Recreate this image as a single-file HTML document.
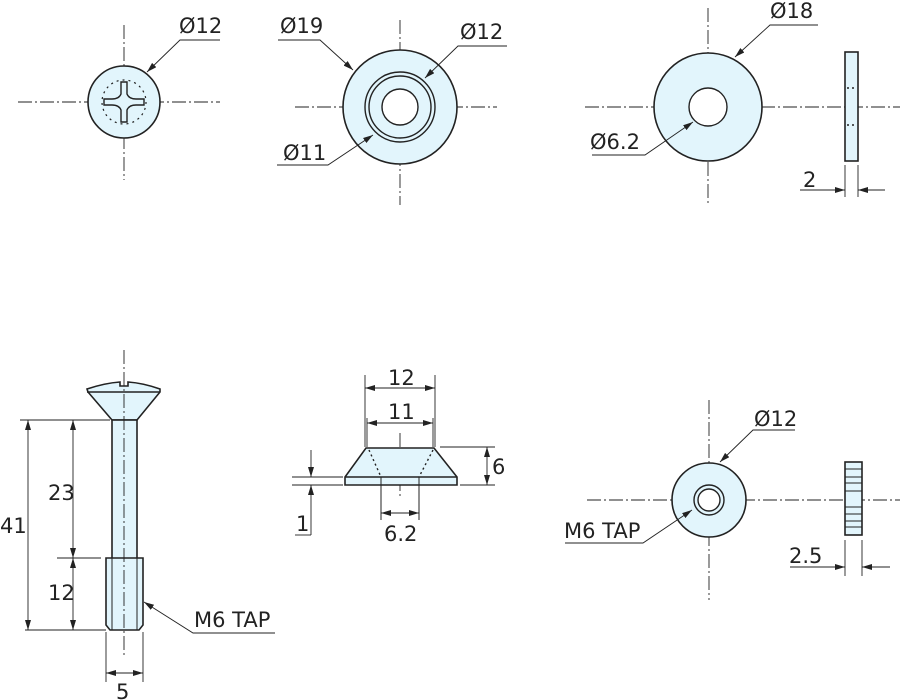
<!DOCTYPE html>
<html><head><meta charset="utf-8"><style>
html,body{margin:0;padding:0;background:#fff}
svg{display:block}
text{font-family:"DejaVu Sans","Liberation Sans",sans-serif;font-size:21px;fill:#222}
</style></head><body>
<svg width="900" height="700" viewBox="0 0 900 700" xmlns="http://www.w3.org/2000/svg">
<defs>
<marker id="a" viewBox="0 0 10 6" refX="10" refY="3" markerWidth="10" markerHeight="6" orient="auto" markerUnits="userSpaceOnUse"><path d="M0,0 L10,3 L0,6 z" fill="#222"/></marker>
</defs>
<g stroke="#222" fill="none" stroke-width="1">
<g stroke-dasharray="14,3,2,3" stroke-width="0.9">
<line x1="18" y1="102" x2="220" y2="102"/><line x1="124" y1="25" x2="124" y2="180"/>
<line x1="295" y1="107" x2="497" y2="107"/><line x1="400" y1="20" x2="400" y2="205"/>
<line x1="585" y1="107" x2="900" y2="107"/><line x1="708" y1="8" x2="708" y2="205"/>
<line x1="400" y1="433" x2="400" y2="497"/>
<line x1="587" y1="500" x2="900" y2="500"/><line x1="709" y1="400" x2="709" y2="600"/>
</g>
</g>
<g stroke="#222" stroke-width="1.6" fill="#e2f5fc">
<circle cx="124" cy="102" r="36"/>
<circle cx="400" cy="107" r="57"/>
<circle cx="708" cy="107" r="54"/>
<rect x="845" y="52" width="13" height="109"/>
<circle cx="709" cy="500" r="37"/>
<rect x="845" y="462" width="17" height="73"/>
<!-- bolt -->
<path d="M87,389 Q105,383 120,382 L120,386 L128,386 L128,382 Q143,383 160,389 L160,392 L137,420 L112,420 L88,392 Z"/>
<rect x="112" y="420" width="25" height="140"/>
<path d="M106,558 L143,558 L143,625 L139,630 L110,630 L106,625 Z"/>
<!-- cone washer -->
<path d="M366,448 L434,448 L457,477 L457,485 L345,485 L345,477 Z"/>
</g>
<g stroke="#222" fill="none" stroke-width="1.4">
<line x1="124" y1="350" x2="124" y2="655" stroke-dasharray="14,3,2,3" stroke-width="0.9"/>
<line x1="87" y1="392" x2="160" y2="392"/>
<line x1="112" y1="558" x2="112" y2="630" stroke-width="1"/><line x1="137" y1="558" x2="137" y2="630" stroke-width="1"/>
<circle cx="400" cy="107" r="35"/><circle cx="400" cy="107" r="31"/>
<circle cx="400" cy="107" r="18" fill="#fff"/>
<circle cx="708" cy="107" r="19" fill="#fff"/>
<circle cx="709" cy="500" r="15"/><circle cx="709" cy="500" r="11" fill="#fff"/>
<circle cx="124" cy="102" r="22" stroke-dasharray="2,4" stroke-width="1.2"/>
<path d="M121,82 L127,82 L127,94 Q129,99 136,99 L144,99 L144,105 L136,105 Q129,105 127,110 L127,122 L121,122 L121,110 Q119,105 112,105 L104,105 L104,99 L112,99 Q119,99 121,94 Z" fill="#e2f5fc"/>
<line x1="345" y1="477" x2="457" y2="477"/>
<line x1="381" y1="477" x2="381" y2="520" stroke-width="1"/><line x1="419" y1="477" x2="419" y2="520" stroke-width="1"/>
<line x1="369" y1="450" x2="381" y2="477" stroke-dasharray="2,3"/><line x1="433" y1="450" x2="419" y2="477" stroke-dasharray="2,3"/>
<line x1="847" y1="88" x2="856" y2="88" stroke-dasharray="2,3"/><line x1="847" y1="125" x2="856" y2="125" stroke-dasharray="2,3"/>
<g stroke-width="1.1"><line x1="845" y1="469" x2="862" y2="469"/><line x1="845" y1="477" x2="862" y2="477"/><line x1="845" y1="483" x2="862" y2="483"/><line x1="845" y1="491" x2="862" y2="491"/><line x1="845" y1="507" x2="862" y2="507"/><line x1="845" y1="514" x2="862" y2="514"/><line x1="845" y1="521" x2="862" y2="521"/><line x1="845" y1="527" x2="862" y2="527"/></g>
</g>
<g stroke="#222" fill="none" stroke-width="0.9">
<polyline points="220,40 180,40 147,72" marker-end="url(#a)"/>
<polyline points="278,40 320,40 353,70" marker-end="url(#a)"/>
<polyline points="507,46 458,46 425,78" marker-end="url(#a)"/>
<polyline points="277,165 328,165 373,135" marker-end="url(#a)"/>
<polyline points="818,25 770,25 735,57" marker-end="url(#a)"/>
<polyline points="592,155 645,155 693,122" marker-end="url(#a)"/>
<line x1="845" y1="165" x2="845" y2="197"/><line x1="858" y1="165" x2="858" y2="197"/>
<line x1="800" y1="190" x2="845" y2="190" marker-end="url(#a)"/><line x1="885" y1="190" x2="858" y2="190" marker-end="url(#a)"/>
<line x1="20" y1="420" x2="110" y2="420"/><line x1="25" y1="630" x2="106" y2="630"/>
<line x1="57" y1="558" x2="101" y2="558"/>
<line x1="28" y1="425" x2="28" y2="420" marker-end="url(#a)"/><line x1="28" y1="425" x2="28" y2="625"/><line x1="28" y1="620" x2="28" y2="630" marker-end="url(#a)"/>
<line x1="73" y1="430" x2="73" y2="420" marker-end="url(#a)"/><line x1="73" y1="430" x2="73" y2="548"/><line x1="73" y1="548" x2="73" y2="558" marker-end="url(#a)"/>
<line x1="73" y1="568" x2="73" y2="558" marker-end="url(#a)"/><line x1="73" y1="568" x2="73" y2="620"/><line x1="73" y1="620" x2="73" y2="630" marker-end="url(#a)"/>
<line x1="106" y1="632" x2="106" y2="682"/><line x1="143" y1="632" x2="143" y2="682"/>
<line x1="124" y1="673" x2="106" y2="673" marker-end="url(#a)"/><line x1="124" y1="673" x2="143" y2="673" marker-end="url(#a)"/>
<polyline points="275,633 193,633 144,602" marker-end="url(#a)"/>
<line x1="365" y1="375" x2="365" y2="447"/><line x1="435" y1="375" x2="435" y2="447"/>
<line x1="400" y1="388" x2="365" y2="388" marker-end="url(#a)"/><line x1="400" y1="388" x2="435" y2="388" marker-end="url(#a)"/>
<line x1="367" y1="418" x2="367" y2="447"/><line x1="433" y1="418" x2="433" y2="447"/>
<line x1="400" y1="423" x2="367" y2="423" marker-end="url(#a)"/><line x1="400" y1="423" x2="433" y2="423" marker-end="url(#a)"/>
<line x1="400" y1="513" x2="381" y2="513" marker-end="url(#a)"/><line x1="400" y1="513" x2="419" y2="513" marker-end="url(#a)"/>
<line x1="440" y1="447" x2="495" y2="447"/><line x1="460" y1="485" x2="495" y2="485"/>
<line x1="487" y1="466" x2="487" y2="447" marker-end="url(#a)"/><line x1="487" y1="466" x2="487" y2="485" marker-end="url(#a)"/>
<line x1="292" y1="477" x2="343" y2="477"/><line x1="292" y1="485" x2="343" y2="485"/>
<line x1="311" y1="450" x2="311" y2="477" marker-end="url(#a)"/><line x1="311" y1="535" x2="311" y2="485" marker-end="url(#a)"/>
<line x1="295" y1="535" x2="311" y2="535"/>
<polyline points="795,430 753,430 720,462" marker-end="url(#a)"/>
<polyline points="565,543 643,543 692,510" marker-end="url(#a)"/>
<line x1="845" y1="540" x2="845" y2="576"/><line x1="862" y1="540" x2="862" y2="576"/>
<line x1="790" y1="567" x2="845" y2="567" marker-end="url(#a)"/><line x1="890" y1="567" x2="862" y2="567" marker-end="url(#a)"/>
</g>
<text x="179" y="33">Ø12</text>
<text x="280" y="33">Ø19</text>
<text x="460" y="39">Ø12</text>
<text x="283" y="160">Ø11</text>
<text x="770" y="18">Ø18</text>
<text x="590" y="149">Ø6.2</text>
<text x="803" y="187">2</text>
<text x="0" y="533">41</text>
<text x="48" y="500">23</text>
<text x="48" y="600">12</text>
<text x="116" y="699">5</text>
<text x="194" y="627">M6 TAP</text>
<text x="388" y="385">12</text>
<text x="388" y="419">11</text>
<text x="492" y="474">6</text>
<text x="296" y="531">1</text>
<text x="384" y="541">6.2</text>
<text x="754" y="426">Ø12</text>
<text x="564" y="538">M6 TAP</text>
<text x="789" y="563">2.5</text>
</svg>
</body></html>
